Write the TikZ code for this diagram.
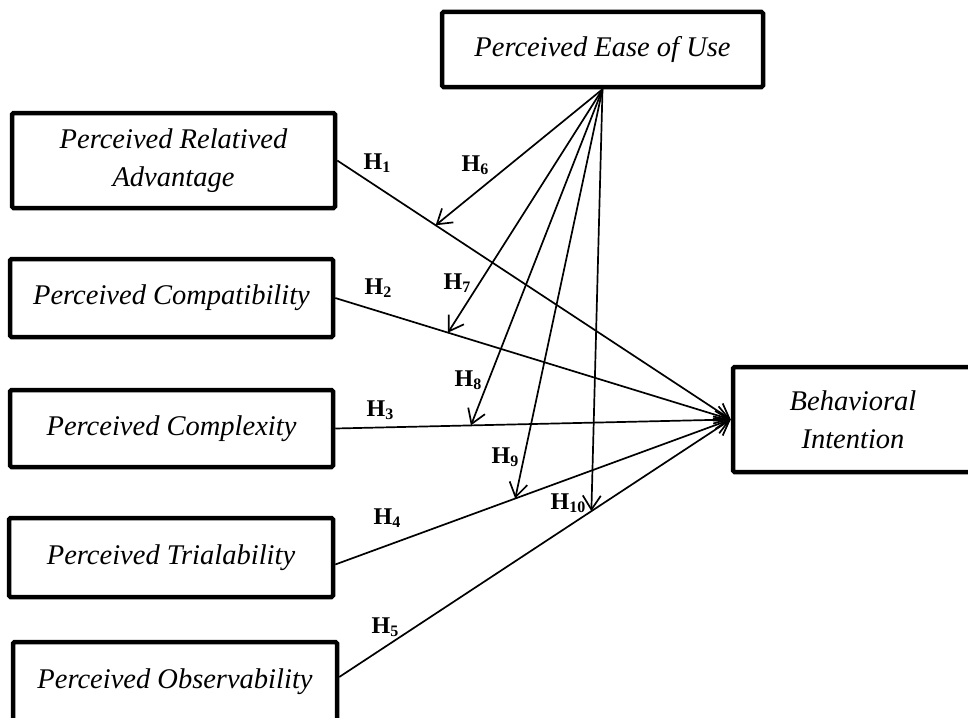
\documentclass[tikz,border=0pt]{standalone}
\usepackage{fontspec}
\setmainfont{Liberation Serif}
\usetikzlibrary{arrows.meta}
\newcommand{\hyp}[1]{H\raisebox{-0.25ex}{\fontsize{16}{16}\selectfont #1}}
\begin{document}
\begin{tikzpicture}[x=1pt,y=-1pt,
  box/.style={draw, line width=4.5pt, rounded corners=1.5pt, inner sep=0pt,
    font=\fontsize{28.5}{38}\selectfont\itshape, align=center},
  link/.style={line width=1.7pt, -{Straight Barb[length=14pt,width=18pt,line width=1.7pt]}},
  hlab/.style={font=\fontsize{24}{24}\selectfont\bfseries, inner sep=0pt}]
\useasboundingbox (0,0) rectangle (968,717);
\clip (0,0) rectangle (968,717);
% boxes
\node[box, minimum width=321, minimum height=75] (eou) at (602.5,49.5) {Perceived Ease of Use};
\node[box, minimum width=323, minimum height=95] (ra) at (173.5,160.5) {Perceived Relatived\\Advantage};
\node[box, minimum width=323, minimum height=78] (pc) at (171.5,298) {Perceived Compatibility};
\node[box, minimum width=323, minimum height=77] (cx) at (171.5,428.5) {Perceived Complexity};
\node[box, minimum width=324, minimum height=79] (tr) at (171,557.5) {Perceived Trialability};
\node[box, minimum width=324, minimum height=80] (ob) at (175,682) {Perceived Observability};
\node[box, minimum width=240, minimum height=105] (bi) at (853,419.5) {Behavioral\\Intention};
% direct paths
\coordinate (t) at (bi.west);
\draw[link] (ra.east) -- (t) coordinate[pos=0.25] (p1);
\draw[link] (pc.east) -- (t) coordinate[pos=0.285] (p2);
\draw[link] (cx.east) -- (t) coordinate[pos=0.343] (p3);
\draw[link] ([yshift=-7pt]tr.east) -- (t) coordinate[pos=0.455] (p4);
\draw[link] ([yshift=5pt]ob.east) -- (t) coordinate[pos=0.644] (p5);
% moderating paths
\draw[link] (eou.south) -- (p1);
\draw[link] (eou.south) -- (p2);
\draw[link] (eou.south) -- (p3);
\draw[link] (eou.south) -- (p4);
\draw[link] (eou.south) -- (p5);
% labels
\node[hlab] (l1) at (377,163) {\hyp{1}};
\node[hlab] (l2) at (378,288) {\hyp{2}};
\node[hlab] (l3) at (380,410) {\hyp{3}};
\node[hlab] (l4) at (387,518) {\hyp{4}};
\node[hlab] (l5) at (385,627) {\hyp{5}};
\node[hlab] (l6) at (475,165) {\hyp{6}};
\node[hlab] (l7) at (457,283) {\hyp{7}};
\node[hlab] (l8) at (468,380) {\hyp{8}};
\node[hlab] (l9) at (505,457) {\hyp{9}};
\node[hlab] (l10) at (568,503) {\hyp{10}};
\end{tikzpicture}
\end{document}
